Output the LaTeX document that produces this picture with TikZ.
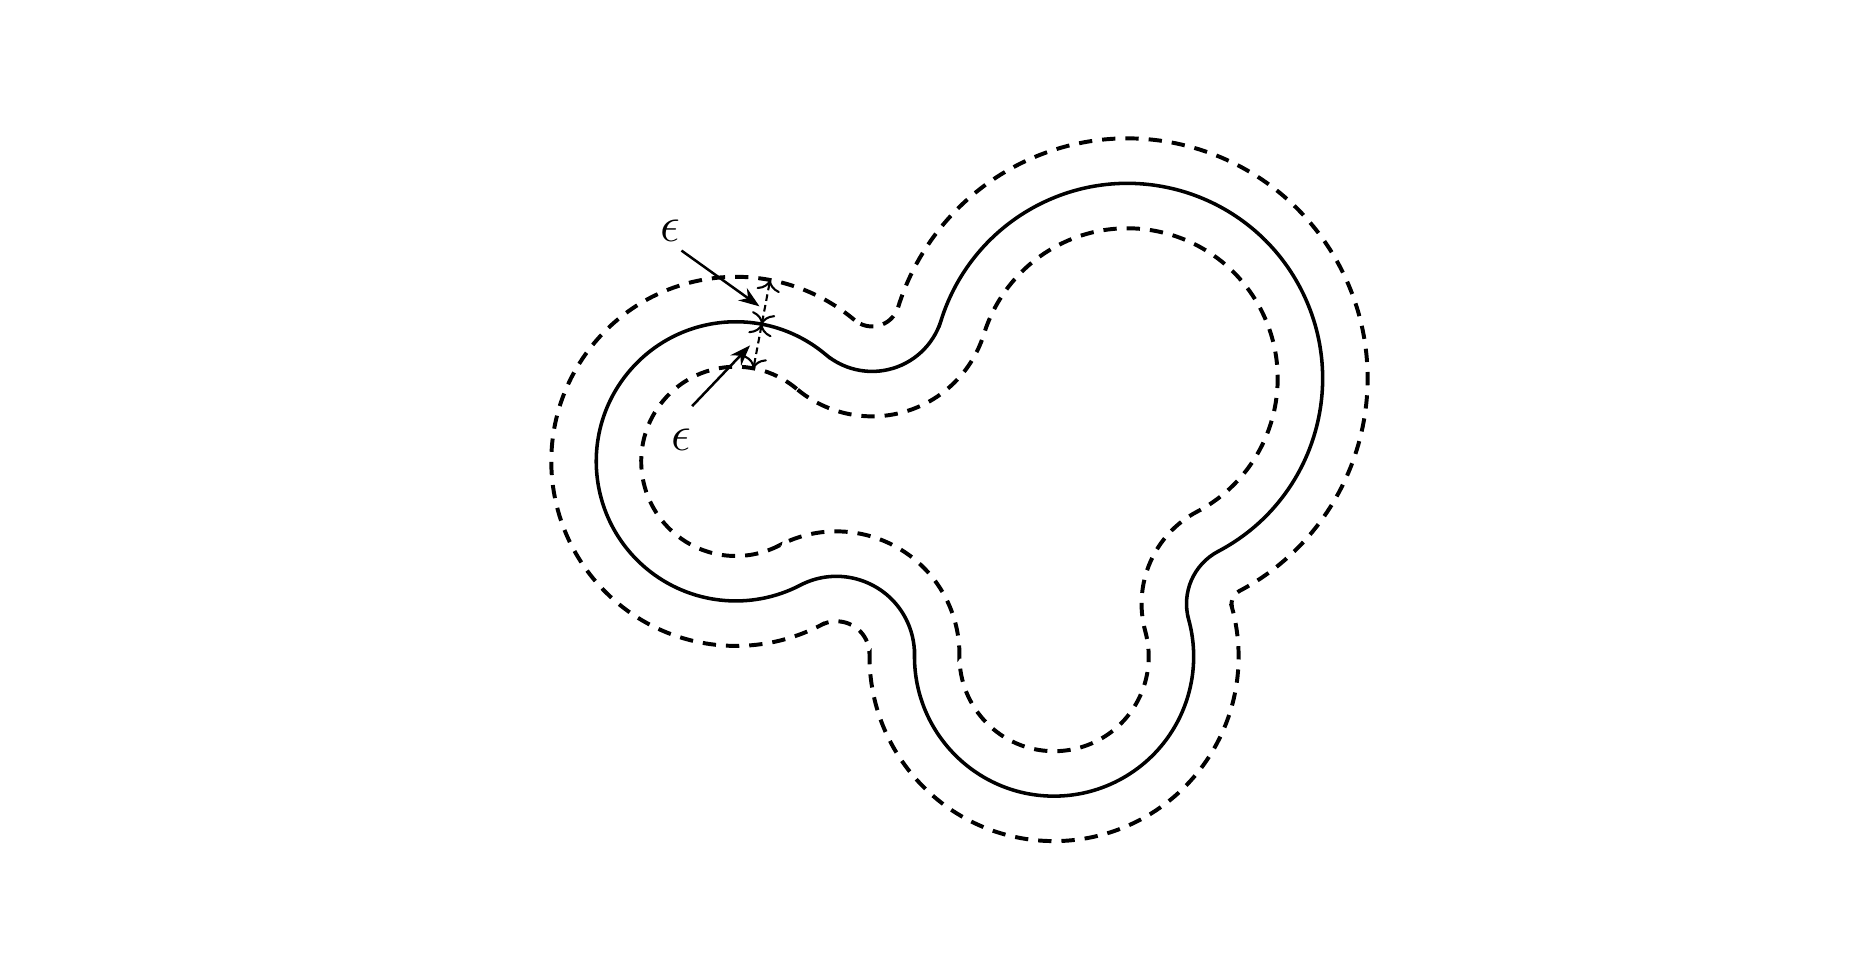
\documentclass[tikz,border=0pt]{standalone}
\usepackage{amsmath}
\usepackage{amssymb}
\usetikzlibrary{arrows.meta}
\tikzset{
    boundary/.style={line width=0.85pt},
    band/.style={line width=0.95pt, dash pattern=on 3.2pt off 2.4pt},
    dim/.style={<->, line width=0.5pt, dash pattern=on 1.6pt off 1pt},
    pointer/.style={-{Stealth[length=5pt,width=3.6pt]}, line width=0.6pt},
    eps/.style={font=\large, inner xsep=0pt, inner ysep=#1},
    eps/.default=2pt
}
\newcommand{\offsetCurve}[2] {
	\draw[#2] ([shift={(49.95:{118+(#1)})}]c1) arc[start angle=49.95, end angle=297.52, radius={118+(#1)}]
		-- ([shift={(117.52:{66-(#1)})}]f13) arc[start angle=117.52, end angle=-0.57, radius={66-(#1)}]
		-- ([shift={(179.43:{118+(#1)})}]c3) arc[start angle=179.43, end angle=375.42, radius={118+(#1)}]
		-- ([shift={(195.42:{50-(#1)})}]f23) arc[start angle=195.42, end angle=117.70, radius={50-(#1)}]
		-- ([shift={(-62.30:{165+(#1)})}]c2) arc[start angle=-62.30, end angle=162.75, radius={165+(#1)}]
		-- ([shift={(342.75:{61-(#1)})}]f12) arc[start angle=342.75, end angle=229.95, radius={61-(#1)}]
		-- cycle;
}
\begin{document}
\begin{tikzpicture}[x=0.01cm, y=0.01cm]
	\useasboundingbox (0,0) rectangle (1568,810);

	% Lobe and fillet centres
	\coordinate (c1) at (622,420);
	\coordinate (c2) at (953,490);
	\coordinate (c3) at (891,255);
	\coordinate (f12) at (737.17,557.03);
	\coordinate (f13) at (707.01,256.82);
	\coordinate (f23) at (1052.95,299.66);

	% Boundary and the two offsets
	\offsetCurve{0}{boundary}
	\offsetCurve{38}{band}
	\offsetCurve{-38}{band}

	% Width markers
	\coordinate (dimmid) at ([shift={(79.3:118)}]c1);
	\coordinate (dimout) at ([shift={(79.3:156)}]c1);
	\coordinate (dimin) at ([shift={(79.3:80)}]c1);
	\draw[dim] (dimmid) -- (dimout);
	\draw[dim] (dimmid) -- (dimin);

	% Labels
	\node[eps] (epsout) at (567,615) {$\epsilon$};
	\node[eps=5.2pt] (epsin) at (576,438.6) {$\epsilon$};
	\coordinate (tipout) at (642,551);
	\coordinate (tipin) at (634,518);
	\draw[pointer] (epsout.south east) -- (tipout);
	\draw[pointer] (epsin.north east) -- (tipin);
\end{tikzpicture}
\end{document}
